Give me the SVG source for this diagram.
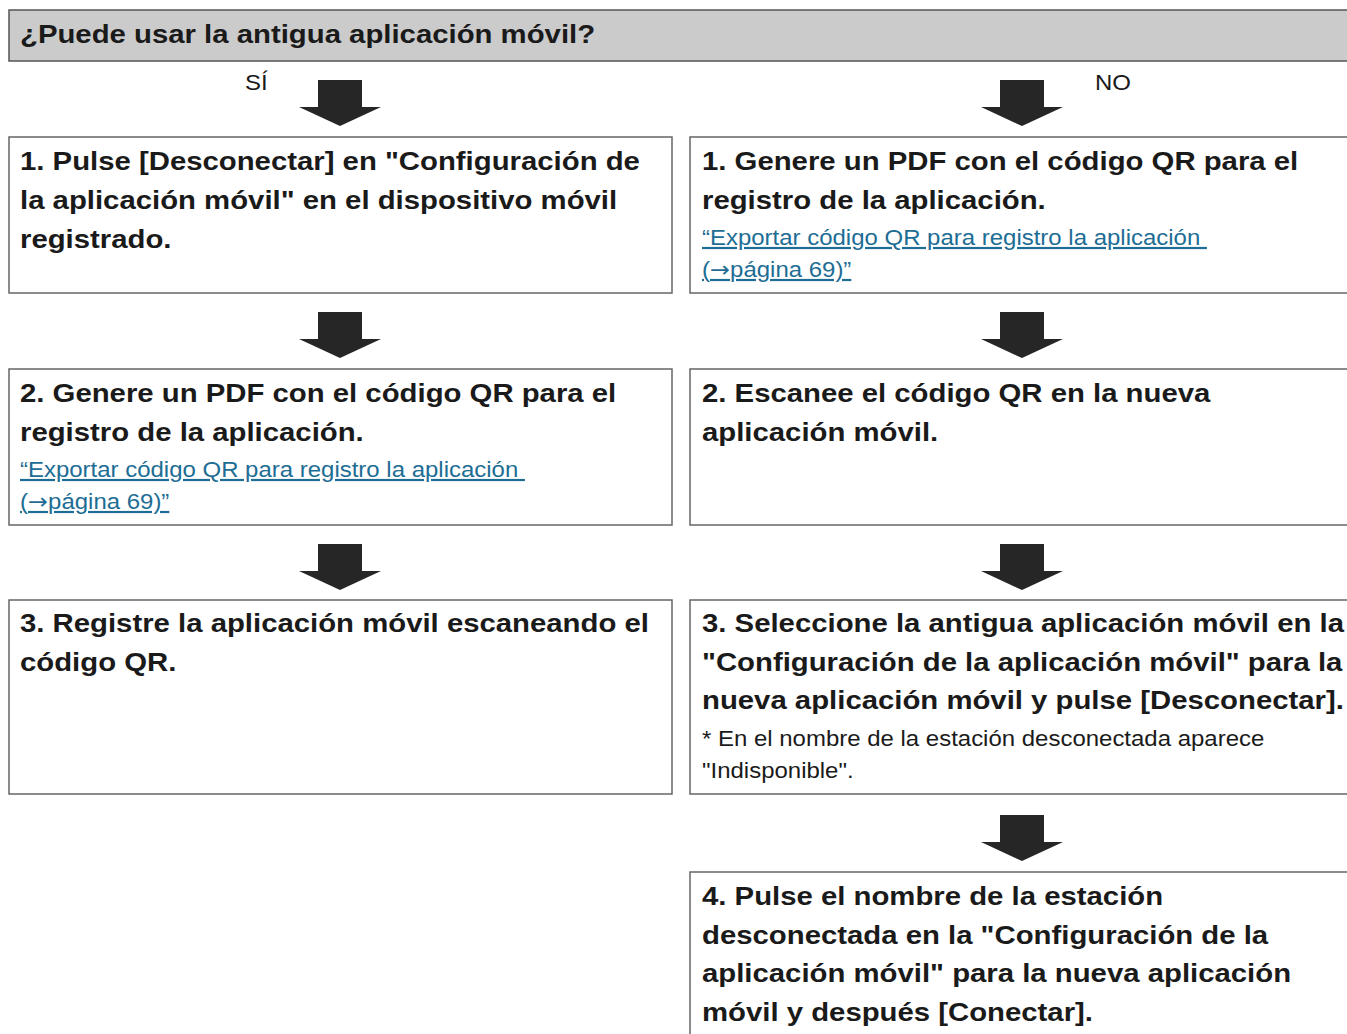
<svg xmlns="http://www.w3.org/2000/svg" width="1347" height="1034" viewBox="0 0 1347 1034">
<style>
.box{fill:#fff;stroke:#666;stroke-width:1.5}
.hdr{fill:#cbcbcb;stroke:#555;stroke-width:1.5}
.b{font-family:"Liberation Sans",Arial,sans-serif;font-weight:bold;font-size:26px;fill:#1a1a1a}
.r{font-family:"Liberation Sans",Arial,sans-serif;font-size:22px;fill:#1a1a1a}
.lnk{font-family:"Liberation Sans",Arial,sans-serif;font-size:22px;fill:#1d6d94;text-decoration:underline}
.ar{font-family:"DejaVu Sans",sans-serif}
.arr{fill:#262626}
</style>
<defs>
<path id="ar" d="M-22,0 H22 V27 H41 L0,46 L-41,27 H-22 Z"/>
</defs>
<g id="header">
<rect class="hdr" x="9" y="10" width="1350" height="51"/>
<text class="b" transform="translate(20,43) scale(1.128,1)">¿Puede usar la antigua aplicación móvil?</text>
</g>
<g id="connectors">
<text class="r" transform="translate(245,90) scale(1.09,1)">SÍ</text>
<text class="r" transform="translate(1095,90) scale(1.09,1)">NO</text>
<use href="#ar" class="arr" x="340" y="80"/>
<use href="#ar" class="arr" x="1022" y="80"/>
<use href="#ar" class="arr" x="340" y="312"/>
<use href="#ar" class="arr" x="1022" y="312"/>
<use href="#ar" class="arr" x="340" y="544"/>
<use href="#ar" class="arr" x="1022" y="544"/>
<use href="#ar" class="arr" x="1022" y="815"/>
</g>
<g id="L1">
<rect class="box" x="9" y="137" width="663" height="156"/>
<text class="b" transform="translate(20,170) scale(1.128,1)">1. Pulse [Desconectar] en "Configuración de</text>
<text class="b" transform="translate(20,209) scale(1.128,1)">la aplicación móvil" en el dispositivo móvil</text>
<text class="b" transform="translate(20,248) scale(1.128,1)">registrado.</text>
</g>
<g id="R1">
<rect class="box" x="690" y="137" width="670" height="156"/>
<text class="b" transform="translate(702,170) scale(1.128,1)">1. Genere un PDF con el código QR para el</text>
<text class="b" transform="translate(702,209) scale(1.128,1)">registro de la aplicación.</text>
<text class="lnk" transform="translate(702,245) scale(1.09,1)" xml:space="preserve">“Exportar código QR para registro la aplicación </text>
<text class="lnk" transform="translate(702,277) scale(1.09,1)">(<tspan class="ar">→</tspan>página 69)”</text>
</g>
<g id="L2">
<rect class="box" x="9" y="369" width="663" height="156"/>
<text class="b" transform="translate(20,402) scale(1.128,1)">2. Genere un PDF con el código QR para el</text>
<text class="b" transform="translate(20,441) scale(1.128,1)">registro de la aplicación.</text>
<text class="lnk" transform="translate(20,477) scale(1.09,1)" xml:space="preserve">“Exportar código QR para registro la aplicación </text>
<text class="lnk" transform="translate(20,509) scale(1.09,1)">(<tspan class="ar">→</tspan>página 69)”</text>
</g>
<g id="R2">
<rect class="box" x="690" y="369" width="670" height="156"/>
<text class="b" transform="translate(702,402) scale(1.128,1)">2. Escanee el código QR en la nueva</text>
<text class="b" transform="translate(702,441) scale(1.128,1)">aplicación móvil.</text>
</g>
<g id="L3">
<rect class="box" x="9" y="600" width="663" height="194"/>
<text class="b" transform="translate(20,632) scale(1.128,1)">3. Registre la aplicación móvil escaneando el</text>
<text class="b" transform="translate(20,671) scale(1.128,1)">código QR.</text>
</g>
<g id="R3">
<rect class="box" x="690" y="600" width="670" height="194"/>
<text class="b" transform="translate(702,632) scale(1.128,1)">3. Seleccione la antigua aplicación móvil en la</text>
<text class="b" transform="translate(702,671) scale(1.128,1)">"Configuración de la aplicación móvil" para la</text>
<text class="b" transform="translate(702,709) scale(1.128,1)">nueva aplicación móvil y pulse [Desconectar].</text>
<text class="r" transform="translate(702,746) scale(1.09,1)">* En el nombre de la estación desconectada aparece</text>
<text class="r" transform="translate(702,778) scale(1.09,1)">"Indisponible".</text>
</g>
<g id="R4">
<rect class="box" x="690" y="872" width="670" height="180"/>
<text class="b" transform="translate(702,905) scale(1.128,1)">4. Pulse el nombre de la estación</text>
<text class="b" transform="translate(702,944) scale(1.128,1)">desconectada en la "Configuración de la</text>
<text class="b" transform="translate(702,982) scale(1.128,1)">aplicación móvil" para la nueva aplicación</text>
<text class="b" transform="translate(702,1021) scale(1.128,1)">móvil y después [Conectar].</text>
</g>
</svg>
